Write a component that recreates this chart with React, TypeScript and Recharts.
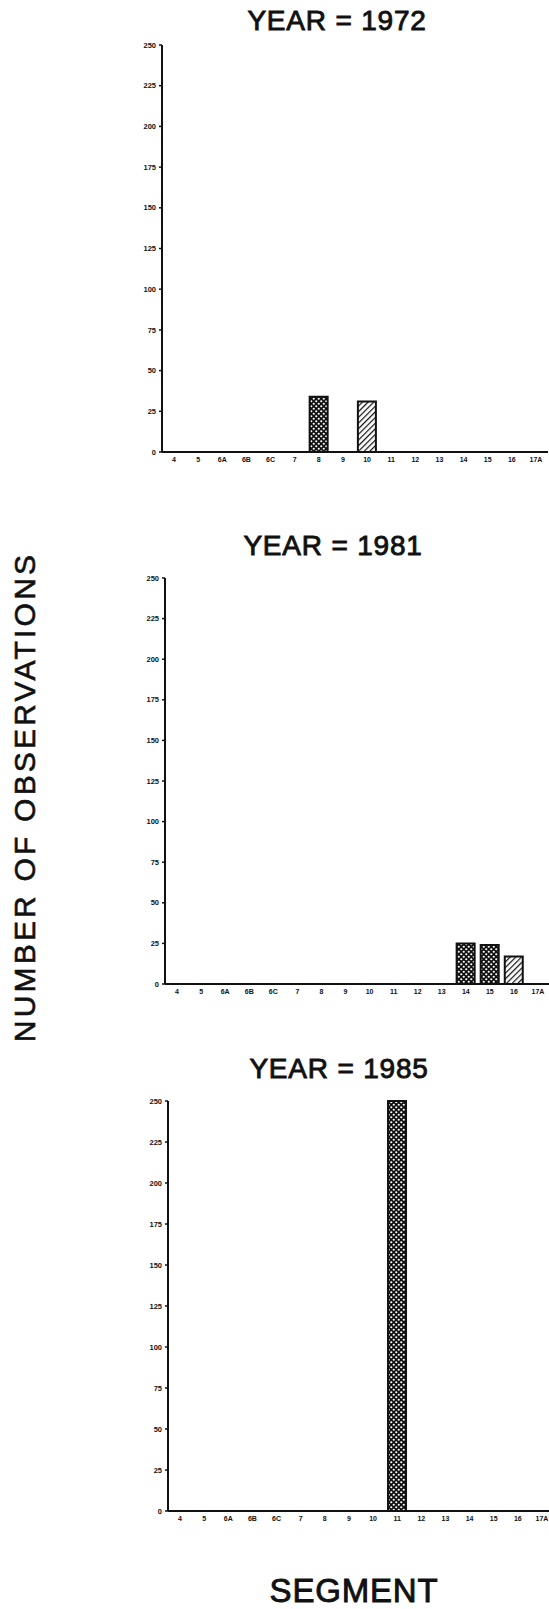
import React from 'react';
import { BarChart, Bar, XAxis, YAxis, Cell } from 'recharts';

const segments = ['4', '5', '6A', '6B', '6C', '7', '8', '9', '10', '11', '12', '13', '14', '15', '16', '17A'];
const yTicks = [0, 25, 50, 75, 100, 125, 150, 175, 200, 225, 250];

// counts per segment, one list per survey year
const counts1972 = [0, 0, 0, 0, 0, 0, 34, 0, 31, 0, 0, 0, 0, 0, 0, 0];
const counts1981 = [0, 0, 0, 0, 0, 0, 0, 0, 0, 0, 0, 0, 25, 24, 17, 0];
const counts1985 = [0, 0, 0, 0, 0, 0, 0, 0, 0, 250, 0, 0, 0, 0, 0, 0];

// segments drawn with diagonal hatching instead of the dot screen
const hatched1972 = ['10'];
const hatched1981 = ['16'];
const hatched1985: string[] = [];

const font = '"Liberation Sans", Arial, sans-serif';

type PanelProps = {
  counts: number[];
  hatched: string[];
  top: number;
  left: number;
  plotHeight: number;
  plotWidth: number;
};

const Panel: React.FC<PanelProps> = ({ counts, hatched, top, left, plotHeight, plotWidth }) => {
  const data = segments.map((s, i) => ({ segment: s, count: counts[i] || null }));
  const marginTop = 45;
  const axisH = 30;
  return (
    <div style={{ position: 'absolute', top, left: 0 }}>
      <BarChart
        width={left + plotWidth}
        height={marginTop + plotHeight + axisH}
        data={data}
        margin={{ top: marginTop, right: 0, bottom: 0, left: 0 }}
        barCategoryGap="12%"
      >
        <XAxis
          dataKey="segment"
          height={axisH}
          interval={0}
          tickLine={false}
          tickSize={0}
          tickMargin={5}
          axisLine={{ stroke: '#111', strokeWidth: 2 }}
          tick={{ fontSize: 7, fontWeight: 'bold', fill: '#111', fontFamily: font }}
        />
        <YAxis
          width={left}
          domain={[0, 250]}
          ticks={yTicks}
          interval={0}
          tickSize={3}
          tickMargin={3}
          axisLine={{ stroke: '#111', strokeWidth: 2 }}
          tickLine={{ stroke: '#111', strokeWidth: 1.5 }}
          tick={{ fontSize: 7.5, fontWeight: 'bold', fill: '#111', fontFamily: font }}
        />
        <Bar dataKey="count" stroke="#111" strokeWidth={2} isAnimationActive={false}>
          {data.map((d) => (
            <Cell
              key={d.segment}
              fill={hatched.includes(d.segment) ? 'url(#hatch)' : 'url(#dots)'}
            />
          ))}
        </Bar>
      </BarChart>
    </div>
  );
};

const App: React.FC = () => {
  const titleStyle = {
    fontFamily: font,
    fontSize: 28,
    fill: '#111',
    stroke: '#111',
    strokeWidth: 0.9,
    letterSpacing: 0.8,
  };
  return (
    <div
      style={{
        position: 'absolute',
        left: 0,
        top: 0,
        width: 549,
        height: 1609,
        overflow: 'hidden',
        background: '#fff',
      }}
    >
      <svg width={549} height={1609} style={{ position: 'absolute', left: 0, top: 0 }}>
        <defs>
          <pattern id="dots" width={5} height={5} patternUnits="userSpaceOnUse">
            <rect width={5} height={5} fill="#111" />
            <circle cx={1.25} cy={1.25} r={1.1} fill="#fff" />
            <circle cx={3.75} cy={3.75} r={1.1} fill="#fff" />
          </pattern>
          <pattern id="hatch" width={4} height={4} patternUnits="userSpaceOnUse" patternTransform="rotate(45)">
            <rect width={4} height={4} fill="#fff" />
            <line x1={0} y1={0} x2={0} y2={4} stroke="#111" strokeWidth={2.4} />
          </pattern>
        </defs>
        <text x={337} y={30} textAnchor="middle" style={titleStyle}>YEAR = 1972</text>
        <text x={333} y={555} textAnchor="middle" style={titleStyle}>YEAR = 1981</text>
        <text x={339} y={1078} textAnchor="middle" style={titleStyle}>YEAR = 1985</text>
        <text
          transform="translate(35, 797) rotate(-90)"
          textAnchor="middle"
          style={{ fontFamily: font, fontSize: 30, fill: '#111', stroke: '#111', strokeWidth: 0.6, letterSpacing: 3.2 }}
        >
          NUMBER OF OBSERVATIONS
        </text>
        <text
          x={354}
          y={1602}
          textAnchor="middle"
          style={{ fontFamily: font, fontSize: 33, fill: '#111', stroke: '#111', strokeWidth: 0.9, letterSpacing: 0.8 }}
        >
          SEGMENT
        </text>
      </svg>
      <Panel counts={counts1972} hatched={hatched1972} top={0} left={162} plotHeight={407} plotWidth={386} />
      <Panel counts={counts1981} hatched={hatched1981} top={533} left={165} plotHeight={406} plotWidth={385} />
      <Panel counts={counts1985} hatched={hatched1985} top={1056} left={168} plotHeight={410} plotWidth={386} />
    </div>
  );
};

export default App;
